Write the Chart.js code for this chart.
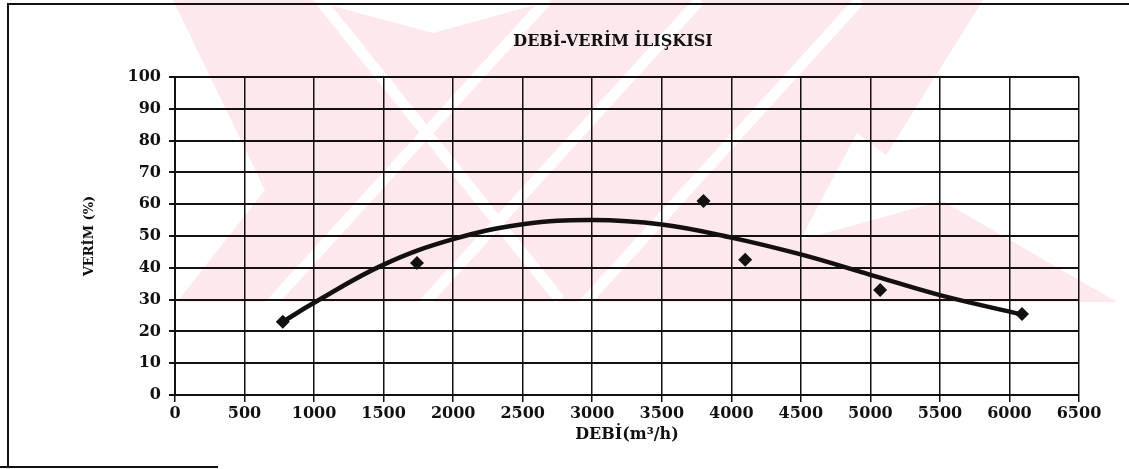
<!DOCTYPE html>
<html>
<head>
<meta charset="utf-8">
<script src="https://cdn.jsdelivr.net/npm/chart.js@4.4.1/dist/chart.umd.min.js"></script>
<style>
  html, body { margin: 0; padding: 0; background: #ffffff; }
  #wrap { width: 1129px; height: 469px; position: relative; }
</style>
</head>
<body>
<div id="wrap"><canvas id="c" width="1129" height="469"></canvas></div>
<script>
// Text
const chartTitle = 'DEBİ-VERİM İLIŞKISI';
const xAxisTitle = 'DEBİ(m³/h)';
const yAxisTitle = 'VERİM (%)';

// Measured points: flow rate (m³/h) and efficiency (%)
const debi = [775, 1740, 3800, 4100, 5070, 6090];
const verim = [23, 41.5, 61, 42.5, 33, 25.5];

// Trend curve through the measurements
const trendDebi = [775, 1000, 1500, 2000, 2500, 3000, 3500, 4000, 4500, 5000, 5500, 6090];
const trendVerim = [23, 29, 41, 49, 53.7, 55, 53.6, 49.5, 44.2, 37.8, 31.4, 25.3];

// Axis ranges
const xRange = [0, 6500];
const xStep = 500;
const yRange = [0, 100];
const yStep = 10;

const INK = '#141010';
const FONT = "'DejaVu Serif', 'Liberation Serif', serif";

// Faint background stamp behind the plot
const stampPlugin = {
  id: 'stamp',
  beforeDraw(chart) {
    const ctx = chart.ctx;
    ctx.save();
    ctx.fillStyle = '#ffffff';
    ctx.fillRect(0, 0, chart.width, chart.height);
    ctx.beginPath();
    ctx.rect(0, 0, chart.width, 302);
    ctx.clip();
    ctx.fillStyle = '#fde8ec';
    ctx.beginPath();
    ctx.moveTo(173, 0); ctx.lineTo(310, 0); ctx.lineTo(433, 33); ctx.lineTo(553, 0);
    ctx.lineTo(983, 0); ctx.lineTo(880, 165); ctx.lineTo(1117, 302);
    ctx.lineTo(177, 302); ctx.lineTo(265, 190); ctx.closePath();
    ctx.fill();
    // a few light diagonal stripes inside the stamp
    ctx.strokeStyle = '#ffffff';
    ctx.lineWidth = 11;
    [547, 700, 860].forEach(x0 => {
      ctx.beginPath(); ctx.moveTo(x0, 0); ctx.lineTo(x0 - 300, 330); ctx.stroke();
    });
    ctx.beginPath(); ctx.moveTo(320, 0); ctx.lineTo(560, 300); ctx.stroke();
    ctx.fillStyle = '#ffffff';
    ctx.beginPath();
    ctx.moveTo(857, 133); ctx.lineTo(945, 200); ctx.lineTo(800, 240); ctx.closePath();
    ctx.fill();
    ctx.restore();
  }
};

// Scanned page frame and the chart heading
const framePlugin = {
  id: 'frame',
  afterDraw(chart) {
    const ctx = chart.ctx;
    ctx.save();
    ctx.strokeStyle = INK;
    ctx.lineWidth = 2;
    ctx.beginPath();
    ctx.moveTo(8, 467); ctx.lineTo(8, 4); ctx.lineTo(1129, 4);
    ctx.moveTo(0, 467); ctx.lineTo(218, 467);
    ctx.stroke();
    ctx.fillStyle = INK;
    ctx.font = 'bold 16px ' + FONT;
    ctx.textAlign = 'center';
    ctx.textBaseline = 'middle';
    ctx.fillText(chartTitle, 613, 42);
    ctx.restore();
  }
};

new Chart(document.getElementById('c'), {
  type: 'scatter',
  data: {
    datasets: [
      {
        label: 'trend',
        data: trendDebi.map((x, i) => ({ x, y: trendVerim[i] })),
        showLine: true,
        borderColor: INK,
        borderWidth: 4.5,
        pointRadius: 0,
        tension: 0.4,
        order: 2
      },
      {
        label: 'verim',
        data: debi.map((x, i) => ({ x, y: verim[i] })),
        pointStyle: 'rectRot',
        pointRadius: 7,
        backgroundColor: INK,
        borderColor: INK,
        borderWidth: 0,
        order: 1
      }
    ]
  },
  options: {
    responsive: false,
    devicePixelRatio: 1,
    animation: false,
    layout: { padding: { top: 77, right: 50, bottom: 25, left: 0 } },
    plugins: {
      legend: { display: false },
      title: { display: false },
      tooltip: { enabled: false }
    },
    scales: {
      x: {
        type: 'linear',
        min: xRange[0],
        max: xRange[1],
        ticks: {
          stepSize: xStep, color: INK, padding: 2, maxRotation: 0,
          font: { family: FONT, size: 16, weight: 'bold' },
          callback: v => String(v)
        },
        grid: { color: INK, lineWidth: 1.5, tickLength: 7, tickColor: INK },
        border: { color: INK, width: 2 },
        title: { display: true, text: xAxisTitle, color: INK, padding: { top: 2, bottom: 0 }, font: { family: FONT, size: 16, weight: 'bold' } },
        afterFit(s) { s.height = 49; }
      },
      y: {
        min: yRange[0],
        max: yRange[1],
        ticks: {
          stepSize: yStep, color: INK, padding: 8,
          font: { family: FONT, size: 16, weight: 'bold' },
          callback: v => String(v)
        },
        grid: { color: INK, lineWidth: 2, tickLength: 6, tickColor: INK },
        border: { color: INK, width: 2 },
        title: { display: true, text: yAxisTitle, color: INK, padding: { top: 82, bottom: 0 }, font: { family: FONT, size: 13, weight: 'bold' } },
        afterFit(s) { s.width = 175; }
      }
    }
  },
  plugins: [stampPlugin, framePlugin]
});
</script>
</body>
</html>
